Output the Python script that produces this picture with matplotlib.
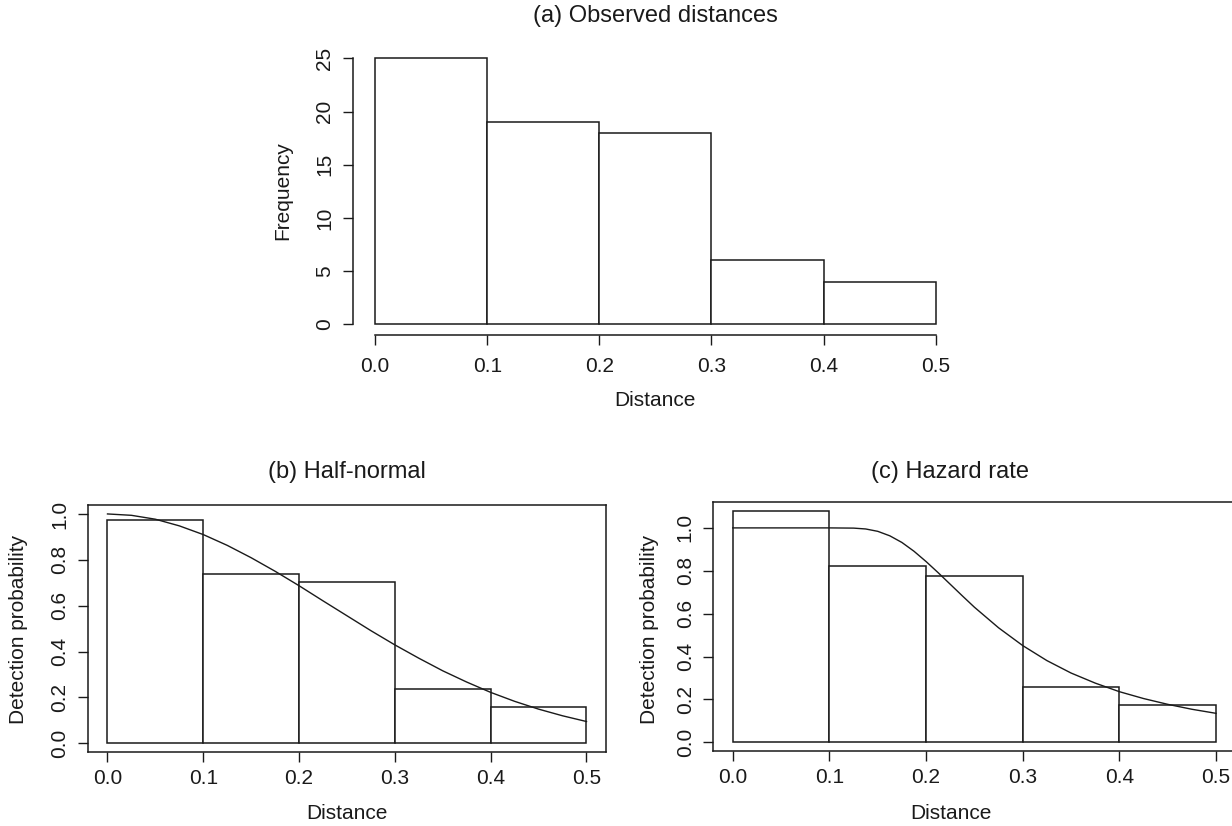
import matplotlib
matplotlib.use('Agg')
import matplotlib.pyplot as plt

plt.rcParams['font.family'] = ['Liberation Sans', 'DejaVu Sans']
plt.rcParams['font.size'] = 15

# data
bin_edges = [0.0, 0.1, 0.2, 0.3, 0.4, 0.5]
counts = [25, 19, 18, 6, 4]
hn_bars = [0.972, 0.737, 0.702, 0.235, 0.157]
hr_bars = [1.078, 0.820, 0.777, 0.258, 0.173]

hn_x = [0.0, 0.025, 0.05, 0.075, 0.1, 0.125, 0.15, 0.175, 0.2, 0.225, 0.25,
        0.275, 0.3, 0.325, 0.35, 0.375, 0.4, 0.425, 0.45, 0.475, 0.5]
hn_curve = [1.0, 0.994, 0.977, 0.948, 0.910, 0.863, 0.809, 0.750, 0.687, 0.621, 0.556,
            0.491, 0.429, 0.371, 0.316, 0.267, 0.222, 0.183, 0.149, 0.120, 0.095]

hr_x = [0.0, 0.05, 0.1, 0.125, 0.1375, 0.15, 0.1625, 0.175, 0.1875, 0.2, 0.2125,
        0.225, 0.2375, 0.25, 0.275, 0.3, 0.325, 0.35, 0.375, 0.4, 0.425, 0.45, 0.475, 0.5]
hr_curve = [1.0, 1.0, 1.0, 0.999, 0.995, 0.984, 0.963, 0.932, 0.891, 0.843, 0.791,
            0.737, 0.683, 0.630, 0.534, 0.451, 0.381, 0.323, 0.276, 0.236, 0.204, 0.177, 0.154, 0.135]

xticks = [0.0, 0.1, 0.2, 0.3, 0.4, 0.5]
xtick_labels = ['0.0', '0.1', '0.2', '0.3', '0.4', '0.5']
prob_ticks = [0.0, 0.2, 0.4, 0.6, 0.8, 1.0]
prob_labels = ['0.0', '0.2', '0.4', '0.6', '0.8', '1.0']
ink = '#1a1a1a'

fig = plt.figure(figsize=(12.32, 8.26), dpi=100)


def draw_bars(ax, heights):
    lefts = bin_edges[:-1]
    widths = [bin_edges[i + 1] - bin_edges[i] for i in range(len(lefts))]
    ax.bar(lefts, heights, width=widths, align='edge', facecolor='white',
           edgecolor=ink, linewidth=1.1)


def style_ticks(ax, xpad=5):
    ax.tick_params(direction='out', length=7, width=1.0, color=ink, labelcolor=ink)
    ax.tick_params(axis='x', pad=xpad)
    ax.tick_params(axis='y', pad=6.5)
    for s in ax.spines.values():
        s.set_color(ink)
        s.set_linewidth(1.1)
    ax.set_xticks(xticks)
    ax.set_xticklabels(xtick_labels)
    for lab in ax.get_yticklabels():
        lab.set_rotation(90)
        lab.set_va('center')


# (a) Observed distances
ax_a = fig.add_axes([0.2863, 0.5946, 0.4914, 0.3475])
draw_bars(ax_a, counts)
ax_a.set_xlim(-0.02, 0.52)
ax_a.set_ylim(-1, 26)
ax_a.set_yticks([0, 5, 10, 15, 20, 25])
style_ticks(ax_a, xpad=9)
ax_a.spines['top'].set_visible(False)
ax_a.spines['right'].set_visible(False)
ax_a.spines['left'].set_bounds(0, 25)
ax_a.spines['bottom'].set_bounds(0, 0.5)
fig.text(0.5317, 0.981, '(a) Observed distances', ha='center', va='center', color=ink, fontsize=17)
fig.text(0.5317, 0.5157, 'Distance', ha='center', va='center', color=ink)
fig.text(0.2293, 0.7688, 'Frequency', ha='center', va='center', rotation=90, color=ink)

# (b) Half-normal
ax_b = fig.add_axes([0.0717, 0.0890, 0.4199, 0.2999])
draw_bars(ax_b, hn_bars)
ax_b.plot(hn_x, hn_curve, color=ink, linewidth=1.0)
ax_b.set_xlim(-0.02, 0.52)
ax_b.set_ylim(-0.04, 1.04)
ax_b.set_yticks(prob_ticks)
ax_b.set_yticklabels(prob_labels)
style_ticks(ax_b)
fig.text(0.2817, 0.429, '(b) Half-normal', ha='center', va='center', color=ink, fontsize=17)
fig.text(0.2817, 0.0157, 'Distance', ha='center', va='center', color=ink)
fig.text(0.0154, 0.2385, 'Detection probability', ha='center', va='center', rotation=90, color=ink)

# (c) Hazard rate
ax_c = fig.add_axes([0.5791, 0.0902, 0.5021, 0.3021])
draw_bars(ax_c, hr_bars)
ax_c.plot(hr_x, hr_curve, color=ink, linewidth=1.0)
ax_c.set_xlim(-0.02, 0.62)
ax_c.set_ylim(-0.043, 1.121)
ax_c.set_yticks(prob_ticks)
ax_c.set_yticklabels(prob_labels)
style_ticks(ax_c)
fig.text(0.7715, 0.429, '(c) Hazard rate', ha='center', va='center', color=ink, fontsize=17)
fig.text(0.7715, 0.0157, 'Distance', ha='center', va='center', color=ink)
fig.text(0.5268, 0.2385, 'Detection probability', ha='center', va='center', rotation=90, color=ink)

fig.savefig('out.png', dpi=100)
